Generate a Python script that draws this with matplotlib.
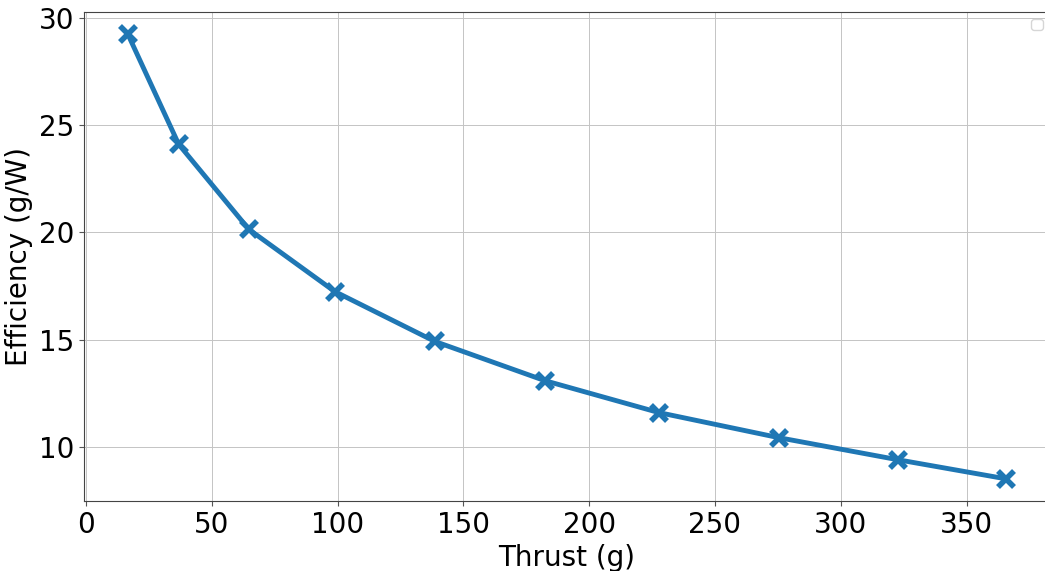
import matplotlib
matplotlib.use("Agg")
from matplotlib import pyplot as plt

thrust = [16.7, 36.9, 64.8, 98.9, 138.7, 182.4, 227.7, 275.3, 322.6, 365.5]
efficiency = [29.25, 24.11, 20.14, 17.24, 14.91, 13.08, 11.59, 10.42, 9.39, 8.50]

fig = plt.figure(figsize=(10.45, 5.71), dpi=100)
ax = fig.add_axes([84 / 1045, 70 / 571, 965.5 / 1045, 489 / 571])

ax.plot(thrust, efficiency, color='#1f77b4', linewidth=3.5, marker='x',
        markersize=12, markeredgewidth=4)
ax.set_xlabel("Thrust (g)", fontsize=20)
ax.set_ylabel("Efficiency (g/W)", fontsize=20)
ax.tick_params(labelsize=20, color='#555555')
ax.set_yticks([10, 15, 20, 25, 30])
ax.grid(True, color='#c4c4c4', linewidth=0.7)
for s in ax.spines.values():
    s.set_edgecolor('#444444')
ax.legend()

fig.savefig("out.png", dpi=100)
